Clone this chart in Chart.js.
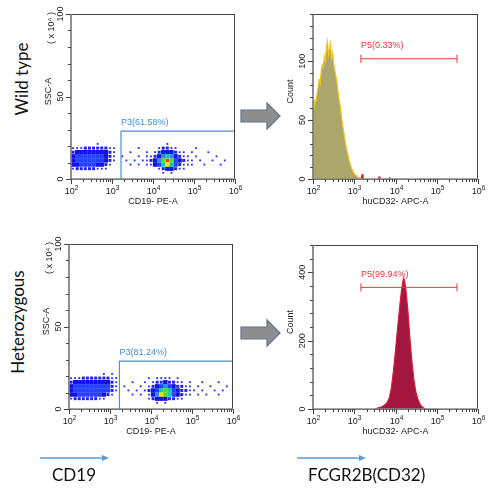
<!DOCTYPE html>
<html>
<head>
<meta charset="utf-8">
<script src="https://cdn.jsdelivr.net/npm/chart.js@4.4.1/dist/chart.umd.min.js"></script>
<style>
  body { margin: 0; background: #fff; }
  #fig { position: relative; width: 492px; height: 488px; overflow: hidden; font-family: Lato, "Open Sans", sans-serif; color: #111; }
  #fig canvas { position: absolute; }
  .side { position: absolute; width: 140px; height: 22px; line-height: 22px; text-align: center; font-size: 17px; transform: rotate(-90deg); white-space: nowrap; }
  .marker { position: absolute; font-size: 17px; line-height: 20px; white-space: nowrap; }
</style>
</head>
<body>
<div id="fig">
  <div class="side" style="left:-48px;top:68px">Wild type</div>
  <div class="side" style="left:-52px;top:311px">Heterozygous</div>
  <canvas id="wtDot" width="246" height="215" style="left:0;top:0"></canvas>
  <canvas id="wtHist" width="246" height="215" style="left:246px;top:0"></canvas>
  <canvas id="hetDot" width="246" height="215" style="left:0;top:230px"></canvas>
  <canvas id="hetHist" width="246" height="215" style="left:246px;top:230px"></canvas>
  <svg width="492" height="488" style="position:absolute;left:0;top:0;pointer-events:none">
    <polygon points="241,110 267,110 267,103 280,116 267,129 267,122 241,122" fill="#8e8e8e" stroke="#5d7391" stroke-width="1.2"/>
    <polygon points="241,327 267,327 267,320 280,333 267,346 267,339 241,339" fill="#8e8e8e" stroke="#5d7391" stroke-width="1.2"/>
    <line x1="40" y1="458" x2="104" y2="458" stroke="#5b9bd5" stroke-width="1.3"/>
    <polygon points="102,455 109,458 102,461" fill="#5b9bd5"/>
    <line x1="297" y1="458" x2="361" y2="458" stroke="#5b9bd5" stroke-width="1.3"/>
    <polygon points="359,455 366,458 359,461" fill="#5b9bd5"/>
  </svg>
  <div class="marker" style="left:52px;top:465px">CD19</div>
  <div class="marker" style="left:308px;top:465px">FCGR2B(CD32)</div>
</div>
<script>
// ---- values ----
var xDecades = [2, 3, 4, 5, 6];            // log axis 10^2 .. 10^6
var xMinor = [2, 3, 4, 5, 6, 7, 8, 9];

// dot plots as density grids: columns log10(x) 2.05 .. 5.95 (step 0.1),
// rows SSC 21.25 down to 3.75 (step 2.5); digit = density level 0..9
var gridCol0 = 2.05, gridColStep = 0.1, gridRow0 = 21.25, gridRowStep = 2.5;
var wtDensity = [
  '0000001000000000000000010000000000000000',
  '1112222221100000100001221100001000000000',
  '2333333332100010001012333211010001000000',
  '3444444432101000101123565321101000010000',
  '3444444432100101011235797432110100100100',
  '3344443321000010101134686421110010001000',
  '1222221110000000000001233211000000000000',
  '0000000000000000000000101000000000000000'
];
var hetDensity = [
  '0000000010100000000000000000000000000000',
  '1112222222110000000101111010000000000000',
  '2333333333210001001012232211010010001000',
  '3444444444210100010123454322110100100010',
  '3444444444210010101234676432211010010100',
  '3344444432100001010135876432110101001000',
  '1222222110000000000123332211000000000000',
  '0000000000000000000001010000000000000000'
];
var levelColor = [null, '#2a2aff', '#2020f6', '#1212e6', '#2440ff', '#2a8cff', '#16c6b0', '#58dc2a', '#f2e200', '#ff3c00'];
var levelRadius = [0, 1.3, 2.1, 3.1, 3.1, 3.1, 3.1, 3.1, 3.0, 2.4];

// P3 gates (wild type, heterozygous)
var p3Labels = ['P3(61.58%)', 'P3(81.24%)'];
var p3Left = [1660, 1700];
var p3Top = [29, 29];

// P5 markers on the histograms
var p5Labels = ['P5(0.33%)', 'P5(99.94%)'];
var p5Range = [1450, 310000];
var p5Level = [102, 356];

// wild type histogram, bins from 10^2.0 in steps of 0.025 decade
var wtBin0 = 2.0, wtBinStep = 0.025;
var wtCount = [62, 60, 67, 66, 73, 78, 84, 81, 92, 97, 95, 104, 100, 112, 117, 105, 110, 115, 102, 107,
               98, 93, 88, 84, 76, 69, 64, 58, 50, 44, 39, 33, 28, 24, 20, 16, 13, 10, 8, 6,
               5, 3, 3, 2, 1, 1, 0, 0];
// the few wild type events that fall inside P5 (drawn red)
var wtGatedLog = [3.17, 3.19, 3.21, 3.23, null, 3.58, 3.60, 3.62, null, 3.84, 3.86, 3.88];
var wtGatedCount = [0, 4, 1, 0, null, 0, 2, 0, null, 0, 1.5, 0];

// heterozygous histogram
var hetLog = [3.50, 3.55, 3.60, 3.65, 3.70, 3.75, 3.80, 3.85, 3.90, 3.95, 4.00, 4.05, 4.10, 4.14, 4.17,
              4.19, 4.20, 4.22, 4.25, 4.30, 4.35, 4.40, 4.45, 4.50, 4.55, 4.60, 4.65, 4.70, 4.75];
var hetCount = [0, 2, 4, 6, 9, 13, 20, 32, 62, 112, 172, 236, 298, 342, 368,
                380, 366, 376, 352, 288, 206, 136, 82, 46, 26, 13, 6, 2, 0];

// ---- drawing ----
var tickFont = '9px "Liberation Sans", Arial, sans-serif';

function rotText(ctx, txt, x, y) {
  ctx.save();
  ctx.translate(x, y);
  ctx.rotate(-Math.PI / 2);
  ctx.textAlign = 'center';
  ctx.textBaseline = 'middle';
  ctx.fillText(txt, 0, 0);
  ctx.restore();
}

function powLabel(ctx, x, y, exp) {
  ctx.font = tickFont;
  var w1 = ctx.measureText('10').width;
  ctx.font = '6.5px "Liberation Sans", Arial, sans-serif';
  var w2 = ctx.measureText(String(exp)).width;
  var x0 = x - (w1 + w2) / 2;
  ctx.textAlign = 'left';
  ctx.textBaseline = 'middle';
  ctx.font = tickFont;
  ctx.fillText('10', x0, y);
  ctx.font = '6.5px "Liberation Sans", Arial, sans-serif';
  ctx.fillText(String(exp), x0 + w1, y - 4);
}

// frame, ticks, axis texts and gate labels, all placed with the chart's scales
function decor(d) {
  return {
    id: 'decor',
    afterDraw: function (chart) {
      var ctx = chart.ctx, a = chart.chartArea, sx = chart.scales.x, sy = chart.scales.y;
      function seg(x1, y1, x2, y2) { ctx.beginPath(); ctx.moveTo(x1, y1); ctx.lineTo(x2, y2); ctx.stroke(); }
      ctx.save();
      ctx.strokeStyle = '#444';
      ctx.lineWidth = 1;
      ctx.strokeRect(a.left, a.top + 0.5, a.right - a.left - 0.5, a.bottom - a.top);
      ctx.strokeStyle = '#8a8a8a';
      ctx.lineWidth = 1.5;
      seg(a.left, a.top, a.left, a.bottom);
      seg(a.left, a.bottom, a.right, a.bottom);

      ctx.strokeStyle = '#444';
      ctx.lineWidth = 1;
      ctx.fillStyle = '#222';
      xDecades.forEach(function (e) {
        var px = Math.round(sx.getPixelForValue(Math.pow(10, e))) + 0.5;
        seg(px, a.bottom, px, a.bottom + 5);
        if (e < 6) xMinor.forEach(function (m) {
          var p = Math.round(sx.getPixelForValue(m * Math.pow(10, e))) + 0.5;
          seg(p, a.bottom, p, a.bottom + 3);
        });
        powLabel(ctx, px, a.bottom + 13, e);
      });
      for (var v = 0; v <= d.yMax; v += d.yStep) {
        var py = Math.round(sy.getPixelForValue(v)) + 0.5;
        seg(a.left - (d.yLabels.indexOf(v) >= 0 ? 5 : 3), py, a.left, py);
      }
      ctx.font = tickFont;
      d.yLabels.forEach(function (v) { rotText(ctx, String(v), a.left - 10, sy.getPixelForValue(v)); });
      ctx.textAlign = 'center';
      ctx.textBaseline = 'middle';
      ctx.fillText(d.xTitle, (a.left + a.right) / 2, a.bottom + 23);
      rotText(ctx, d.yTitle, a.left - 22, (a.top + a.bottom) / 2 - 5);
      if (d.yUnit) rotText(ctx, d.yUnit, a.left - 19, a.top + 14);

      ctx.fillStyle = d.gateColor;
      ctx.textAlign = 'left';
      ctx.textBaseline = 'middle';
      ctx.fillText(d.gateText, sx.getPixelForValue(d.gateX), sy.getPixelForValue(d.gateY) - d.gateDy);
      ctx.restore();
    }
  };
}

function baseOptions(yMax, pad) {
  return {
    responsive: false,
    animation: false,
    layout: { padding: pad },
    scales: {
      x: { type: 'logarithmic', min: 100, max: 1e6, display: false },
      y: { type: 'linear', min: 0, max: yMax, display: false }
    },
    plugins: { legend: { display: false }, tooltip: { enabled: false } }
  };
}

function densityPoints(rows) {
  var pts = [];
  rows.forEach(function (row, r) {
    row.split('').forEach(function (ch, c) {
      var lv = +ch;
      if (lv) pts.push({ x: Math.pow(10, gridCol0 + c * gridColStep), y: gridRow0 - r * gridRowStep, lv: lv });
    });
  });
  return pts.sort(function (p, q) { return p.lv - q.lv; });
}

function dotChart(id, grid, g, pad) {
  var pts = densityPoints(grid);
  new Chart(document.getElementById(id), {
    type: 'scatter',
    data: { datasets: [
      { data: [{ x: p3Left[g], y: 0 }, { x: p3Left[g], y: p3Top[g] }, { x: 1e6, y: p3Top[g] }, { x: 1e6, y: 0 }],
        showLine: true, borderColor: '#4a8fd8', borderWidth: 1.2, pointRadius: 0 },
      { data: pts, pointStyle: 'rect', pointRadius: pts.map(function (p) { return levelRadius[p.lv]; }),
        pointBackgroundColor: pts.map(function (p) { return levelColor[p.lv]; }), pointBorderWidth: 0 }
    ] },
    options: baseOptions(100, pad),
    plugins: [decor({ yMax: 100, yStep: 10, yLabels: [0, 50, 100], xTitle: 'CD19- PE-A', yTitle: 'SSC-A',
      yUnit: '( x 10\u2074 )', gateText: p3Labels[g], gateColor: '#3f8ee0', gateX: p3Left[g], gateY: p3Top[g], gateDy: 9 })]
  });
}

function histChart(id, pts, g, yMax, yStep, yLabels, fillColor, edgeColor, extra, pad) {
  var sets = [
    { data: [{ x: p5Range[0], y: p5Level[g] }, { x: p5Range[1], y: p5Level[g] }], borderColor: '#e8383d', borderWidth: 1,
      pointStyle: 'line', pointRadius: 4, pointRotation: 90, pointBorderColor: '#e8383d', pointBorderWidth: 1, fill: false }
  ].concat(extra, [
    { data: pts, fill: 'origin', backgroundColor: fillColor, borderColor: edgeColor, borderWidth: 1.2, pointRadius: 0, tension: 0 }
  ]);
  new Chart(document.getElementById(id), {
    type: 'line',
    data: { datasets: sets },
    options: baseOptions(yMax, pad),
    plugins: [decor({ yMax: yMax, yStep: yStep, yLabels: yLabels, xTitle: 'huCD32- APC-A', yTitle: 'Count',
      gateText: p5Labels[g], gateColor: '#e8383d', gateX: p5Range[0], gateY: p5Level[g], gateDy: 13 })]
  });
}

dotChart('wtDot', wtDensity, 0, { left: 71, right: 11, top: 14, bottom: 36 });
dotChart('hetDot', hetDensity, 1, { left: 69, right: 13, top: 14, bottom: 36 });

var wtPts = wtCount.map(function (n, i) { return { x: Math.pow(10, wtBin0 + i * wtBinStep), y: n }; });
var wtRed = wtGatedLog.map(function (lx, i) { return { x: lx === null ? null : Math.pow(10, lx), y: wtGatedCount[i] }; });
histChart('wtHist', wtPts, 0, 140, 10, [0, 50, 100], '#aba66c', '#f2c31a',
  [{ data: wtRed, fill: 'origin', backgroundColor: '#e01a2a', borderColor: '#e01a2a', borderWidth: 1, pointRadius: 0, spanGaps: false }],
  { left: 67, right: 14, top: 14, bottom: 36 });

var hetPts = hetLog.map(function (lx, i) { return { x: Math.pow(10, lx), y: hetCount[i] }; });
histChart('hetHist', hetPts, 1, 480, 40, [0, 200, 400], '#a3163f', '#dc1a38', [],
  { left: 67, right: 14, top: 15, bottom: 36 });
</script>
</body>
</html>
